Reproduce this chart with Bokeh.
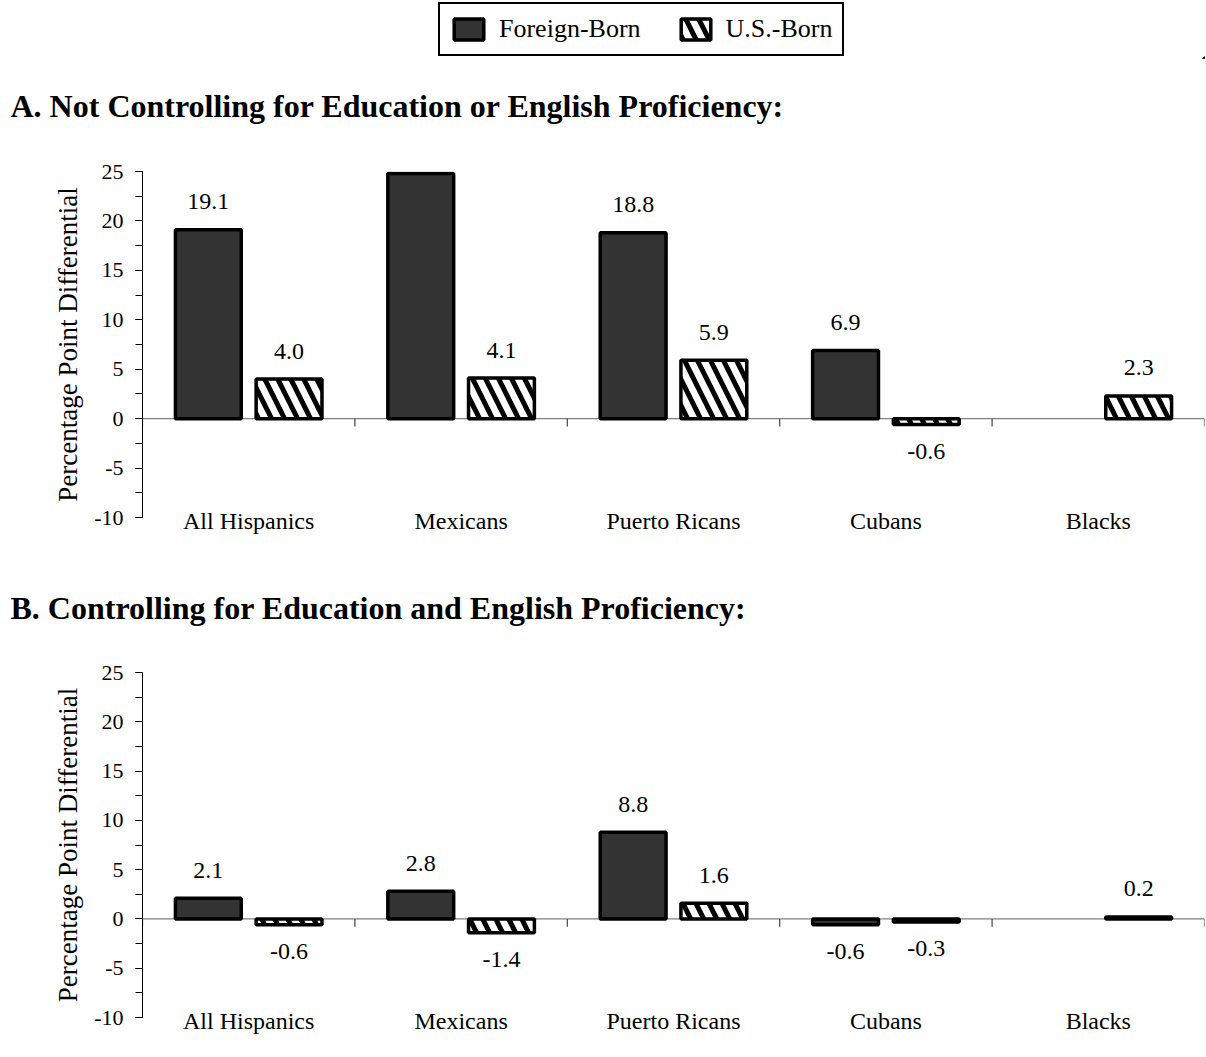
import numpy as np
from bokeh.plotting import figure
from bokeh.layouts import column
from bokeh.models import (Range1d, SingleIntervalTicker, FixedTicker, ColumnDataSource,
                          Legend, LegendItem, PrintfTickFormatter)
from bokeh.embed import file_html
from bokeh.resources import INLINE

# ---------------- data ----------------
categories = ["All Hispanics", "Mexicans", "Puerto Ricans", "Cubans", "Blacks"]
series = ["Foreign-Born", "U.S.-Born"]
a_foreign = [19.1, 24.8, 18.8, 6.9, None]
a_us = [4.0, 4.1, 5.9, -0.6, 2.3]
b_foreign = [2.1, 2.8, 8.8, -0.6, None]
b_us = [-0.6, -1.4, 1.6, -0.3, 0.2]
title_a = "A. Not Controlling for Education or English Proficiency:"
title_b = "B. Controlling for Education and English Proficiency:"
y_label = "Percentage Point Differential"
y_min, y_max = -10, 25

FONT = "Liberation Serif"
DARK = "#333333"
BAR_W = 0.31
OFFS = [-0.19, 0.19]


def bar_source(vals, offset):
    xs, tops, labels, yoffs = [], [], [], []
    for i, v in enumerate(vals):
        if v is None:
            continue
        xs.append(i + 0.5 + offset)
        tops.append(v)
        labels.append(f"{v:.1f}")
        yoffs.append(-28 if v >= 0 else 27)
    return ColumnDataSource(dict(x=xs, top=tops, label=labels, yoff=yoffs))


def style_foreign(kw):
    kw.update(fill_color=DARK, line_color="black", line_width=3.5)
    return kw


def style_us(kw):
    kw.update(fill_color="white", line_color="black", line_width=3.5,
              hatch_pattern="\\", hatch_color="black", hatch_weight=5, hatch_scale=26)
    return kw


def style_title(t, standoff):
    t.text_font = FONT
    t.text_font_style = "bold"
    t.text_font_size = "32px"
    t.text_color = "black"
    t.align = "left"
    t.offset = -132
    t.standoff = standoff


def panel(foreign, us, height, border_top, border_bottom, title=None, standoff=0):
    n = len(categories)
    p = figure(width=1206, height=height, x_range=Range1d(0, n), y_range=Range1d(y_min, y_max),
               output_backend="svg", toolbar_location=None,
               min_border_left=142, min_border_right=2,
               min_border_top=border_top, min_border_bottom=border_bottom,
               outline_line_color=None, background_fill_color="white")
    p.grid.visible = False
    if title:
        p.title.text = title
        style_title(p.title, standoff)
    else:
        p.title.visible = False

    # y axis
    ya = p.yaxis[0]
    ya.ticker = SingleIntervalTicker(interval=5, num_minor_ticks=2)
    ya.formatter = PrintfTickFormatter(format="%d")
    ya.axis_line_color = "black"
    ya.major_tick_in = 0
    ya.major_tick_out = 7
    ya.minor_tick_in = 0
    ya.minor_tick_out = 7
    ya.major_tick_line_color = "black"
    ya.minor_tick_line_color = "black"
    ya.major_label_text_font = FONT
    ya.major_label_text_font_size = "22px"
    ya.major_label_text_color = "black"
    ya.major_label_standoff = 12
    ya.axis_label = y_label
    ya.axis_label_text_font = FONT
    ya.axis_label_text_font_size = "27px"
    ya.axis_label_text_font_style = "normal"
    ya.axis_label_text_color = "black"
    ya.axis_label_standoff = 8

    # x axis (category names only)
    xa = p.xaxis[0]
    centers = [i + 0.5 for i in range(n)]
    xa.ticker = FixedTicker(ticks=centers)
    xa.major_label_overrides = {c: name for c, name in zip(centers, categories)}
    xa.axis_line_color = None
    xa.major_tick_line_color = None
    xa.minor_tick_line_color = None
    xa.major_label_text_font = FONT
    xa.major_label_text_font_size = "24px"
    xa.major_label_text_color = "black"
    xa.major_label_standoff = -16

    # zero line and boundary ticks
    bounds = list(range(n + 1))
    p.segment(x0=[0], y0=[0], x1=[n], y1=[0], line_color="#7f7f7f", line_width=1.2)
    p.segment(x0=bounds, y0=[0] * len(bounds), x1=bounds, y1=[-0.8] * len(bounds),
              line_color="#444444", line_width=1.2)

    # bars
    sources = []
    for vals, off, styler in ((foreign, OFFS[0], style_foreign), (us, OFFS[1], style_us)):
        src = bar_source(vals, off)
        sources.append(src)
        p.vbar(x="x", top="top", bottom=0, width=BAR_W, source=src, **styler({}))
        p.text(x="x", y="top", text="label", y_offset="yoff", source=src,
               text_align="center", text_baseline="middle",
               text_font={"value": FONT}, text_font_size={"value": "24px"}, text_color="black")
    return p, sources


pa, src_a = panel(a_foreign, a_us, 390, 21, 23)
pb, src_b = panel(b_foreign, b_us, 517, 132, 40, title=title_b, standoff=93)

# ---------------- legend + heading A figure ----------------
# legend renderers use the real panel-A data; the view ranges keep the bars themselves out of sight
lf = figure(width=1206, height=150, x_range=Range1d(-30, -20), y_range=Range1d(100, 110),
            output_backend="svg", toolbar_location=None, min_border=0,
            outline_line_color=None, x_axis_location=None, y_axis_location=None,
            title=title_a, title_location="below")
lf.grid.visible = False
style_title(lf.title, 54)
r1 = lf.vbar(x="x", top="top", width=BAR_W, source=src_a[0], **style_foreign({}))
r2 = lf.vbar(x="x", top="top", width=BAR_W, source=src_a[1], **style_us({}))
legend = Legend(items=[LegendItem(label=series[0], renderers=[r1]),
                       LegendItem(label=series[1], renderers=[r2])],
                orientation="horizontal", location=(296, 2), margin=0,
                padding=10, spacing=36, glyph_width=37, glyph_height=26,
                label_standoff=12, label_text_font=FONT, label_text_font_size="26px",
                label_text_color="black", border_line_color="black", border_line_width=2.5,
                border_line_alpha=1, background_fill_alpha=1)
lf.add_layout(legend, "center")

layout = column(lf, pa, pb, spacing=0)
open("out.html", "w").write(file_html(layout, INLINE))
